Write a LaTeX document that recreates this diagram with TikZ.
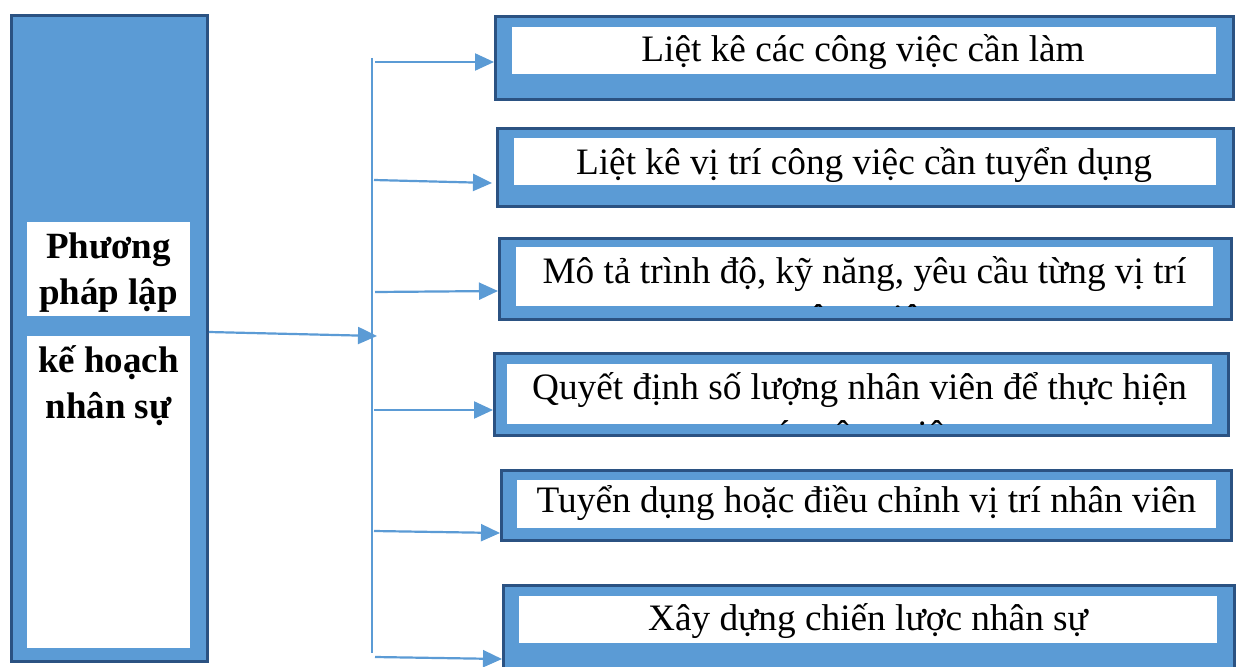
\documentclass[tikz,border=0pt]{standalone}
\usepackage{fontspec}
\setmainfont{Liberation Serif}
\usetikzlibrary{arrows.meta}
\definecolor{boxblue}{HTML}{5B9BD5}
\definecolor{boxedge}{HTML}{2B5282}
\definecolor{arrowblue}{HTML}{5B9BD5}
\tikzset{
  outerbox/.style={draw=boxedge, fill=boxblue, line width=3pt, inner sep=0pt, anchor=north west},
  innerbox/.style={fill=white, inner sep=0pt, anchor=north west},
  conn/.style={draw=arrowblue, line width=2.2pt, -{Triangle[length=19pt,width=17pt]}},
  bus/.style={draw=arrowblue, line width=1.5pt},
  lbl/.style={font=\fontsize{37.3}{47}\selectfont, inner sep=0pt, anchor=base},
  lbold/.style={font=\fontsize{37}{46}\selectfont\bfseries, inner sep=0pt, anchor=base}
}
\begin{document}
\begin{tikzpicture}[x=1pt,y=-1pt]
\clip (0,0) rectangle (1238,666);
\fill[white] (0,0) rectangle (1238,666);
% left box
\node[outerbox, minimum width=196pt, minimum height=646pt] (L) at (10,14) {};
\node[innerbox, minimum width=163pt, minimum height=94pt] (Li1) at (27,222) {};
\node[innerbox, minimum width=163pt, minimum height=312pt] (Li2) at (27,336) {};
\node[lbold] (Lt1) at (108.5,258) {\begin{tabular}[t]{@{}c@{}}Phương\\pháp lập\end{tabular}};
\node[lbold] (Lt2) at (108.5,372) {\begin{tabular}[t]{@{}c@{}}kế hoạch\\nhân sự\end{tabular}};
% right boxes
\node[outerbox, minimum width=738pt, minimum height=83pt] (b1) at (494,15) {};
\node[innerbox, minimum width=704pt, minimum height=47pt] (b1i) at (512,27) {};
\node[lbl] (t1) at (863,62) {Liệt kê các công việc cần làm};

\node[outerbox, minimum width=736pt, minimum height=78pt] (b2) at (496,127) {};
\node[innerbox, minimum width=702pt, minimum height=47pt] (b2i) at (514,138) {};
\node[lbl] (t2) at (864,174) {Liệt kê vị trí công việc cần tuyển dụng};

\node[outerbox, minimum width=732pt, minimum height=81pt] (b3) at (498,237) {};
\node[innerbox, minimum width=697pt, minimum height=59pt] (b3i) at (516,247) {};
\begin{scope}
\clip (516,247) rectangle (1213,306);
\node[lbl] (t3) at (864.5,283) {\begin{tabular}[t]{@{}c@{}}Mô tả trình độ, kỹ năng, yêu cầu từng vị trí\\công việc\end{tabular}};
\end{scope}

\node[outerbox, minimum width=734pt, minimum height=82pt] (b4) at (493,352) {};
\node[innerbox, minimum width=705pt, minimum height=60pt] (b4i) at (507,364) {};
\begin{scope}
\clip (507,364) rectangle (1212,424);
\node[lbl] (t4) at (859.5,399) {\begin{tabular}[t]{@{}c@{}}Quyết định số lượng nhân viên để thực hiện\\các công việc\end{tabular}};
\end{scope}

\node[outerbox, minimum width=730pt, minimum height=70pt] (b5) at (500,469) {};
\node[innerbox, minimum width=699pt, minimum height=48pt] (b5i) at (517,480) {};
\node[lbl] (t5) at (866.5,512) {Tuyển dụng hoặc điều chỉnh vị trí nhân viên};

\node[outerbox, minimum width=731pt, minimum height=90pt] (b6) at (502,584) {};
\node[innerbox, minimum width=698pt, minimum height=47pt] (b6i) at (519,596) {};
\node[lbl] (t6) at (868,630) {Xây dựng chiến lược nhân sự};

% connectors
\coordinate (busTop) at (372,58);
\coordinate (busBot) at (372,653);
\draw[bus] (busTop) -- (busBot);
\coordinate (m0) at (L.east |- 0,332);
\coordinate (m1) at (377,336);
\draw[conn] (m0) -- (m1);
\coordinate (s1) at (375,62);  \coordinate (e1) at (494,62);
\coordinate (s2) at (374,180); \coordinate (e2) at (492,183);
\coordinate (s3) at (375,292); \coordinate (e3) at (498,291);
\coordinate (s4) at (374,410); \coordinate (e4) at (493,410);
\coordinate (s5) at (374,531); \coordinate (e5) at (500,533);
\coordinate (s6) at (375,657); \coordinate (e6) at (502,659);
\foreach \i in {1,...,6} {\draw[conn] (s\i) -- (e\i);}
\end{tikzpicture}
\end{document}
